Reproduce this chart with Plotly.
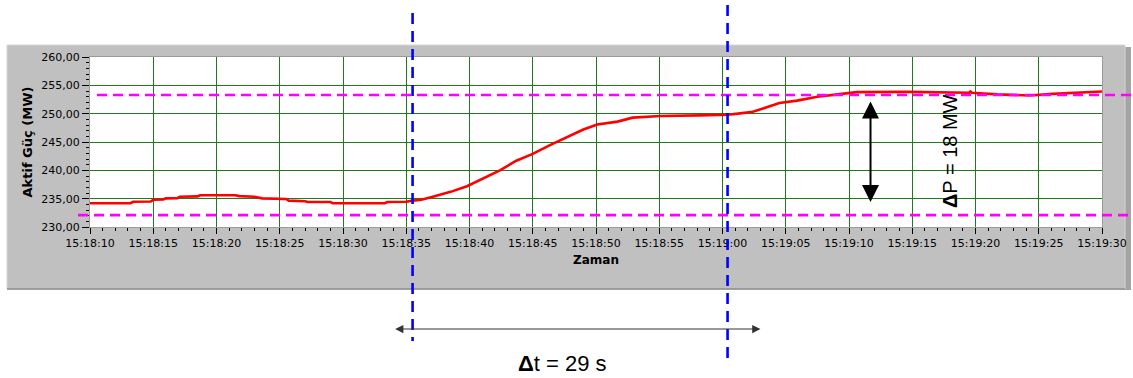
import plotly.graph_objects as go

# Active power record, seconds after 15:18:10 and MW
t_sec = [0, 3.2, 3.4, 4.8, 5.0, 5.8, 6.0, 6.9, 7.1, 8.5, 8.7, 11.5, 11.8, 13.0, 13.6,
         15.5, 15.7, 17.0, 17.2, 19.0, 19.2, 23.3, 23.5, 25.0, 25.5, 26.2, 27.1, 28.5,
         29.8, 31.1, 32.4, 33.7, 35.0, 36.4, 37.7, 39.0, 40.1, 41.7, 42.9, 45.1, 48.2,
         50.4, 51.4, 52.4, 53.2, 54.5, 55.9, 57.5, 59.1, 60.6, 64.6, 67.7, 69.5, 69.6,
         69.7, 71.7, 74.3, 76.1, 77.7, 79.1, 80]
p_mw = [234.2, 234.2, 234.45, 234.5, 234.8, 234.85, 235.05, 235.1, 235.35, 235.4, 235.6,
        235.6, 235.45, 235.35, 235.05, 234.95, 234.65, 234.55, 234.4, 234.4, 234.2, 234.2,
        234.4, 234.45, 234.65, 234.8, 235.35, 236.2, 237.2, 238.6, 240.0, 241.7, 242.9,
        244.5, 245.9, 247.2, 248.1, 248.6, 249.3, 249.6, 249.7, 249.8, 250.05, 250.35,
        250.9, 251.9, 252.3, 253.0, 253.4, 253.8, 253.85, 253.75, 253.7, 253.9, 253.7,
        253.4, 253.2, 253.5, 253.7, 253.9, 253.9]

tick_sec = list(range(0, 81, 5))
tick_labels = ["15:18:10", "15:18:15", "15:18:20", "15:18:25", "15:18:30", "15:18:35",
               "15:18:40", "15:18:45", "15:18:50", "15:18:55", "15:19:00", "15:19:05",
               "15:19:10", "15:19:15", "15:19:20", "15:19:25", "15:19:30"]

# Reference levels before and after the step (MW)
level_low = 232.1
level_high = 253.3
# Marker times of the transient (s)
t_start = 25.5
t_end = 50.4
# Power change and duration annotations
delta_p = 18
delta_p_mid = 243.15
delta_p_t = 61.7
delta_t = 29
delta_t_start = 24.0

X_RANGE = [0, 80]
Y_RANGE = [230, 260]

# Pixel layout of the page
W, H = 1133, 378
PL, PR, PT, PB = 90, 1102, 57, 227


def px_x(px):
    return (px - PL) / (PR - PL)


def px_y(py):
    return (PB - py) / (PB - PT)


def dx(t):
    return (t - X_RANGE[0]) / (X_RANGE[1] - X_RANGE[0])


def dy(v):
    return (v - Y_RANGE[0]) / (Y_RANGE[1] - Y_RANGE[0])


fig = go.Figure()
fig.add_trace(go.Scatter(x=t_sec, y=p_mw, mode="lines",
                         line=dict(color="#ff0000", width=2.6),
                         hoverinfo="skip", showlegend=False))

shapes = []
# instrument panel
shapes.append(dict(type="rect", xref="paper", yref="paper", layer="below",
                   x0=px_x(1124), x1=px_x(1131), y0=px_y(290), y1=px_y(47),
                   fillcolor="#a4a4a4", line_width=0))
shapes.append(dict(type="rect", xref="paper", yref="paper", layer="below",
                   x0=px_x(7), x1=px_x(1125), y0=px_y(289), y1=px_y(45),
                   fillcolor="#c0c0c0", line=dict(color="#d6d6d6", width=1)))
shapes.append(dict(type="line", xref="paper", yref="paper", layer="below",
                   x0=px_x(7), x1=px_x(1125), y0=px_y(289), y1=px_y(289),
                   line=dict(color="#8a8a8a", width=1.5)))
shapes.append(dict(type="rect", xref="paper", yref="paper", layer="below",
                   x0=0, x1=1, y0=0, y1=1, fillcolor="#ffffff", line_width=0))

# horizontal reference levels
for lv, xs in ((level_high, px_x(97)), (level_low, px_x(78))):
    shapes.append(dict(type="line", xref="paper", yref="paper",
                       x0=xs, x1=px_x(1133), y0=dy(lv), y1=dy(lv),
                       line=dict(color="#ff00ff", width=2.6, dash="10px,6px")))

# transient start / end markers
for tv, top, bot in ((t_start, 13, 341), (t_end, 5, 364)):
    shapes.append(dict(type="line", xref="paper", yref="paper",
                       x0=dx(tv), x1=dx(tv), y0=px_y(top), y1=px_y(bot),
                       line=dict(color="#0000ff", width=2.6, dash="11px,7px")))

annotations = [
    # ΔP double arrow
    dict(x=delta_p_t, y=delta_p_mid + delta_p / 2, xref="x", yref="y",
         ax=delta_p_t, ay=delta_p_mid - delta_p / 2, axref="x", ayref="y",
         text="", showarrow=True, arrowhead=2, startarrowhead=2,
         arrowside="end+start", arrowsize=1.7, startarrowsize=1.7,
         arrowwidth=2, arrowcolor="#000000"),
    dict(x=px_x(950), y=px_y(151), xref="paper", yref="paper",
         text=f"<b>Δ</b>P = {delta_p} MW", showarrow=False, textangle=-90,
         font=dict(family="Liberation Sans", size=20, color="#000000"),
         xanchor="center", yanchor="middle"),
    # Δt double arrow
    dict(x=delta_t_start + delta_t, y=px_y(329), xref="x", yref="paper",
         ax=delta_t_start, ay=0, axref="x", ayref="pixel",
         text="", showarrow=True, arrowhead=2, startarrowhead=2,
         arrowside="end+start", arrowsize=1.5, startarrowsize=1.5,
         arrowwidth=1.1, arrowcolor="#333333"),
    dict(x=px_x(562), y=px_y(363), xref="paper", yref="paper",
         text=f"<b>Δ</b>t = {delta_t} s", showarrow=False,
         font=dict(family="Liberation Sans", size=22, color="#000000"),
         xanchor="center", yanchor="middle"),
]

grid_color = "#1f7a1f"
tick_font = dict(family="DejaVu Sans", size=11, color="#000000")

fig.update_layout(
    width=W, height=H,
    margin=dict(l=PL, r=W - PR, t=PT, b=H - PB, autoexpand=False),
    paper_bgcolor="#ffffff", plot_bgcolor="#ffffff",
    separators=",.",
    shapes=shapes, annotations=annotations,
    xaxis=dict(range=X_RANGE, tickvals=tick_sec, ticktext=tick_labels,
               showgrid=True, gridcolor=grid_color, gridwidth=1,
               ticks="outside", ticklen=6, tickwidth=1, tickcolor="#000000",
               showline=True, linecolor="#9a9a9a", linewidth=1, mirror=True,
               zeroline=False, tickfont=tick_font, automargin=False,
               minor=dict(dtick=1, ticks="outside", ticklen=3, tickcolor="#000000",
                          showgrid=False),
               title=dict(text="<b>Zaman</b>", standoff=6,
                          font=dict(family="DejaVu Sans", size=12, color="#000000"))),
    yaxis=dict(range=Y_RANGE, dtick=5, tickformat=".2f",
               showgrid=True, gridcolor=grid_color, gridwidth=1,
               ticks="outside", ticklen=7, tickwidth=1, tickcolor="#000000",
               showline=True, linecolor="#9a9a9a", linewidth=1, mirror=True,
               zeroline=False, tickfont=tick_font, automargin=False,
               minor=dict(dtick=1, ticks="outside", ticklen=3, tickcolor="#000000",
                          showgrid=False),
               title=dict(text="<b>Aktif Güç (MW)</b>", standoff=5,
                          font=dict(family="DejaVu Sans", size=13, color="#000000"))),
)

fig.write_html("out.html")
